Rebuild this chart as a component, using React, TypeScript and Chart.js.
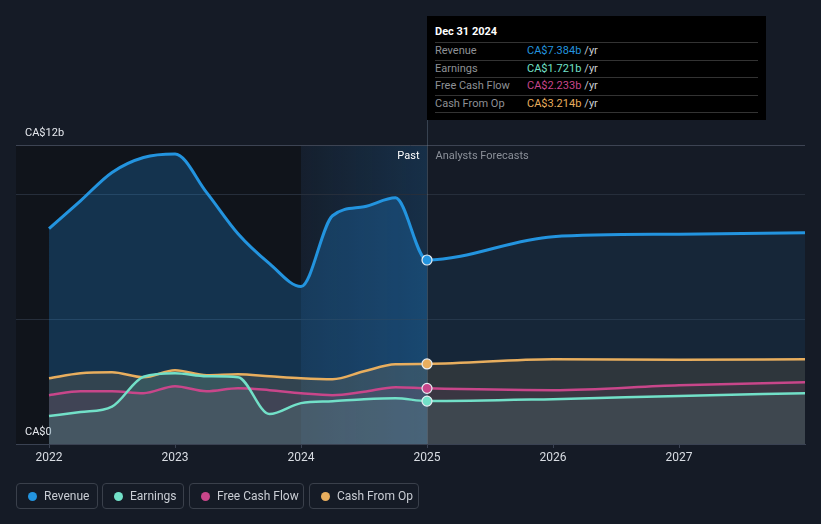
import React, { useEffect, useRef } from 'react';
import { Chart, registerables } from 'chart.js';

Chart.register(...registerables);

// ---- data (CA$ billions) ----
const years = [2022, 2022.25, 2022.5, 2022.75, 2023, 2023.25, 2023.5, 2023.75, 2024, 2024.25, 2024.5, 2024.75, 2025, 2026, 2027, 2028];
const revenue = [8.64, 9.76, 10.9, 11.5, 11.64, 10.1, 8.44, 7.24, 6.32, 9.16, 9.52, 9.88, 7.384, 8.32, 8.42, 8.48];
const earnings = [1.12, 1.28, 1.5, 2.7, 2.84, 2.72, 2.68, 1.2, 1.64, 1.72, 1.8, 1.84, 1.721, 1.8, 1.93, 2.04];
const freeCashFlow = [1.96, 2.12, 2.12, 2.04, 2.32, 2.12, 2.24, 2.16, 2.04, 1.96, 2.1, 2.28, 2.233, 2.16, 2.36, 2.48];
const cashFromOp = [2.64, 2.84, 2.88, 2.68, 2.96, 2.76, 2.8, 2.72, 2.64, 2.6, 2.92, 3.2, 3.214, 3.4, 3.38, 3.4];

const xTickYears = [2022, 2023, 2024, 2025, 2026, 2027];
const yTickValues = [0, 5, 10, 12];
const yTickLabels: Record<number, string> = { 0: 'CA$0', 12: 'CA$12b' };

const seriesNames = ['Revenue', 'Earnings', 'Free Cash Flow', 'Cash From Op'];
const seriesColors = ['#2394df', '#72e0c8', '#c8468a', '#e8ae5e'];
const tooltipTitle = 'Dec 31 2024';
const pastEnd = 2025;
const highlightStart = 2024;
const xMin = 2021.738;
const xMax = 2028;

const FONT = 'Roboto, "Noto Sans", sans-serif';

export default function App() {
  const ref = useRef<HTMLCanvasElement>(null);

  useEffect(() => {
    const canvas = ref.current;
    if (!canvas) return;
    const mk = (arr: number[]) => years.map((x, i) => ({ x, y: arr[i] }));
    const lastIdx = years.indexOf(pastEnd);

    const regionPlugin = {
      id: 'regions',
      beforeDraw(chart: any) {
        const { ctx, chartArea: a, scales } = chart;
        const x = scales.x;
        const x24 = x.getPixelForValue(highlightStart);
        const x25 = x.getPixelForValue(pastEnd);
        ctx.save();
        ctx.fillStyle = '#10141b';
        ctx.fillRect(a.left, a.top, x24 - a.left, a.bottom - a.top);
        const g = ctx.createLinearGradient(x24, 0, x25, 0);
        g.addColorStop(0, 'rgba(33,150,243,0.04)');
        g.addColorStop(1, 'rgba(33,150,243,0.17)');
        ctx.fillStyle = g;
        ctx.fillRect(x24, a.top, x25 - x24, a.bottom - a.top);
        ctx.restore();
      },
      beforeDatasetsDraw(chart: any) {
        const { ctx, chartArea: a, scales } = chart;
        const x25 = Math.round(scales.x.getPixelForValue(pastEnd)) + 0.5;
        ctx.save();
        ctx.strokeStyle = 'rgba(120,140,160,0.35)';
        ctx.lineWidth = 1;
        ctx.beginPath();
        ctx.moveTo(x25, 120);
        ctx.lineTo(x25, a.bottom);
        ctx.stroke();
        ctx.font = `11px ${FONT}`;
        ctx.textBaseline = 'middle';
        ctx.textAlign = 'right';
        ctx.fillStyle = '#ffffff';
        ctx.fillText('Past', x25 - 8, a.top + 11);
        ctx.textAlign = 'left';
        ctx.fillStyle = '#8b9099';
        ctx.fillText('Analysts Forecasts', x25 + 8, a.top + 11);
        ctx.restore();
      },
    };

    const fills = [
      ['rgba(33,150,243,0.24)', 'rgba(33,150,243,0.09)'],
      ['rgba(110,224,200,0.12)', 'rgba(110,224,200,0.10)'],
      ['rgba(200,70,138,0.10)', 'rgba(200,70,138,0.08)'],
      ['rgba(232,174,94,0.14)', 'rgba(232,174,94,0.12)'],
    ];
    const series = [revenue, earnings, freeCashFlow, cashFromOp];
    const orders = [3, 0, 1, 2];
    const widths = [3, 2.5, 2.5, 2.5];

    const chart = new Chart(canvas, {
      type: 'line',
      data: {
        datasets: series.map((s, k) => ({
          label: seriesNames[k],
          data: mk(s),
          borderColor: seriesColors[k],
          backgroundColor: fills[k][0],
          borderWidth: widths[k],
          fill: 'origin',
          order: orders[k],
          cubicInterpolationMode: 'monotone' as const,
          pointRadius: (c: any) => (c.dataIndex === lastIdx ? 5 : 0),
          pointHoverRadius: 5,
          pointBackgroundColor: seriesColors[k],
          pointBorderColor: '#e8eef4',
          pointBorderWidth: 1.2,
          segment: {
            backgroundColor: (c: any) => (c.p0.parsed.x >= pastEnd ? fills[k][1] : fills[k][0]),
          },
        })),
      },
      options: {
        responsive: false,
        animation: false,
        events: [],
        layout: { padding: { top: 145, left: 16, right: 16, bottom: 50 } },
        plugins: {
          legend: { display: false },
          tooltip: { enabled: false },
          filler: { drawTime: 'beforeDatasetsDraw' },
        },
        scales: {
          x: {
            type: 'linear',
            min: xMin,
            max: xMax,
            afterBuildTicks: (s: any) => {
              s.ticks = xTickYears.map((v) => ({ value: v }));
            },
            afterFit: (s: any) => {
              s.height = 30;
            },
            ticks: {
              callback: (v: any) => String(v),
              color: '#d9dde3',
              font: { family: FONT, size: 12 },
              padding: 3,
              maxRotation: 0,
              autoSkip: false,
            },
            grid: {
              drawOnChartArea: false,
              drawTicks: true,
              tickLength: 4,
              color: '#3a4252',
            },
            border: { display: true, color: '#3a4252', width: 1 },
          },
          y: {
            type: 'linear',
            min: 0,
            max: 12,
            afterBuildTicks: (s: any) => {
              s.ticks = yTickValues.map((v) => ({ value: v }));
            },
            afterFit: (s: any) => {
              s.width = 0;
            },
            ticks: {
              mirror: true,
              padding: 9,
              labelOffset: -12,
              color: '#e6e9ee',
              font: { family: FONT, size: 11 },
              callback: (v: any) => yTickLabels[v] ?? '',
            },
            grid: {
              drawTicks: false,
              color: (c: any) => (c.tick?.value === 12 ? '#3d4453' : c.tick?.value === 0 ? 'rgba(0,0,0,0)' : '#262e3b'),
            },
            border: { display: false },
          },
        },
      },
      plugins: [regionPlugin],
    } as any);

    return () => chart.destroy();
  }, []);

  const tipValues = [revenue, earnings, freeCashFlow, cashFromOp].map((s) => s[years.indexOf(pastEnd)]);
  const legendBoxes = [
    { left: 16, width: 82 },
    { left: 102, width: 82 },
    { left: 189, width: 115 },
    { left: 309, width: 110 },
  ];

  return (
    <div
      style={{
        position: 'fixed',
        left: 0,
        top: 0,
        width: 821,
        height: 524,
        background: '#151b26',
        overflow: 'hidden',
        fontFamily: FONT,
      }}
    >
      <canvas ref={ref} width={821} height={524} style={{ position: 'absolute', left: 0, top: 0, width: 821, height: 524 }} />

      <div
        style={{
          position: 'absolute',
          left: 427,
          top: 16,
          width: 339,
          height: 104,
          background: '#000000',
          boxSizing: 'border-box',
          padding: '0 8px',
        }}
      >
        <div style={{ height: 26, lineHeight: '31px', color: '#ffffff', fontSize: 11, fontWeight: 700 }}>{tooltipTitle}</div>
        {seriesNames.map((n, i) => (
          <div
            key={n}
            style={{
              height: 17.5,
              boxSizing: 'border-box',
              lineHeight: '16px',
              borderTop: '1px solid #333333',
              display: 'flex',
              fontSize: 11,
            }}
          >
            <span style={{ width: 92, color: '#8e9196' }}>{n}</span>
            <span style={{ color: seriesColors[i] }}>CA${tipValues[i].toFixed(3)}b</span>
            <span style={{ color: '#c9cdd2', marginLeft: 3 }}>/yr</span>
          </div>
        ))}
        <div style={{ borderTop: '1px solid #333333' }} />
      </div>

      {seriesNames.map((n, i) => (
        <div
          key={n}
          style={{
            position: 'absolute',
            left: legendBoxes[i].left,
            top: 483,
            width: legendBoxes[i].width,
            height: 26,
            boxSizing: 'border-box',
            border: '1px solid #3a404b',
            borderRadius: 4,
            display: 'flex',
            alignItems: 'center',
            paddingLeft: 11,
            fontSize: 12,
            color: '#c9cdd4',
          }}
        >
          <span
            style={{
              width: 9,
              height: 9,
              borderRadius: '50%',
              background: seriesColors[i],
              marginRight: 7,
              flex: 'none',
            }}
          />
          <span>{n}</span>
        </div>
      ))}
    </div>
  );
}
